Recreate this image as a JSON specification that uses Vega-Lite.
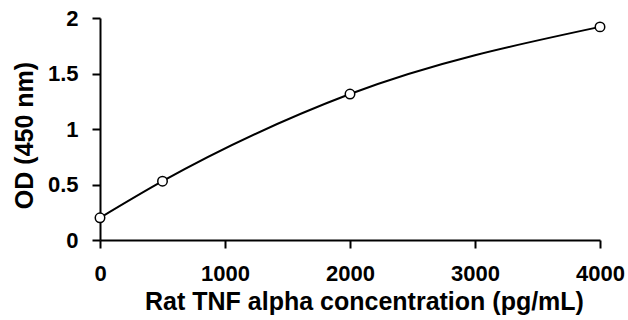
{
  "$schema": "https://vega.github.io/schema/vega-lite/v6.json",
  "autosize": "none",
  "width": 500,
  "height": 222,
  "padding": {"left": 100, "top": 18, "right": 28, "bottom": 80},
  "background": "white",
  "config": {
    "view": {"stroke": null},
    "font": "Liberation Sans"
  },
  "data": {
    "values": [
      {"conc": 0, "od": 0.2},
      {"conc": 500, "od": 0.53},
      {"conc": 2000, "od": 1.315},
      {"conc": 4000, "od": 1.92}
    ]
  },
  "encoding": {
    "x": {
      "field": "conc",
      "type": "quantitative",
      "scale": {"domain": [0, 4000], "nice": false, "zero": false},
      "axis": {
        "values": [0, 1000, 2000, 3000, 4000],
        "format": "d",
        "title": "Rat TNF alpha concentration (pg/mL)",
        "grid": false,
        "domainColor": "black",
        "domainWidth": 2,
        "tickColor": "black",
        "tickWidth": 2,
        "tickSize": 8,
        "labelFont": "Liberation Sans",
        "labelFontSize": 22,
        "labelFontWeight": "bold",
        "labelColor": "black",
        "labelPadding": 15,
        "labelFlush": false,
        "titleFont": "Liberation Sans",
        "titleFontSize": 25,
        "titleFontWeight": "bold",
        "titleColor": "black",
        "titlePadding": 5,
        "titleX": 264
      }
    },
    "y": {
      "field": "od",
      "type": "quantitative",
      "scale": {"domain": [0, 2], "nice": false},
      "axis": {
        "values": [0, 0.5, 1, 1.5, 2],
        "format": "~g",
        "title": "OD (450 nm)",
        "grid": false,
        "domainColor": "black",
        "domainWidth": 2,
        "tickColor": "black",
        "tickWidth": 2,
        "tickSize": 8,
        "labelFont": "Liberation Sans",
        "labelFontSize": 22,
        "labelFontWeight": "bold",
        "labelColor": "black",
        "labelPadding": 14,
        "labelFlush": false,
        "titleFont": "Liberation Sans",
        "titleFontSize": 25,
        "titleFontWeight": "bold",
        "titleColor": "black",
        "titlePadding": 10,
        "titleY": 117
      }
    }
  },
  "layer": [
    {
      "mark": {"type": "line", "interpolate": "monotone", "color": "black", "strokeWidth": 2}
    },
    {
      "mark": {"type": "point", "shape": "circle", "filled": true, "fill": "white", "stroke": "black", "strokeWidth": 1.5, "size": 90, "opacity": 1}
    }
  ]
}
